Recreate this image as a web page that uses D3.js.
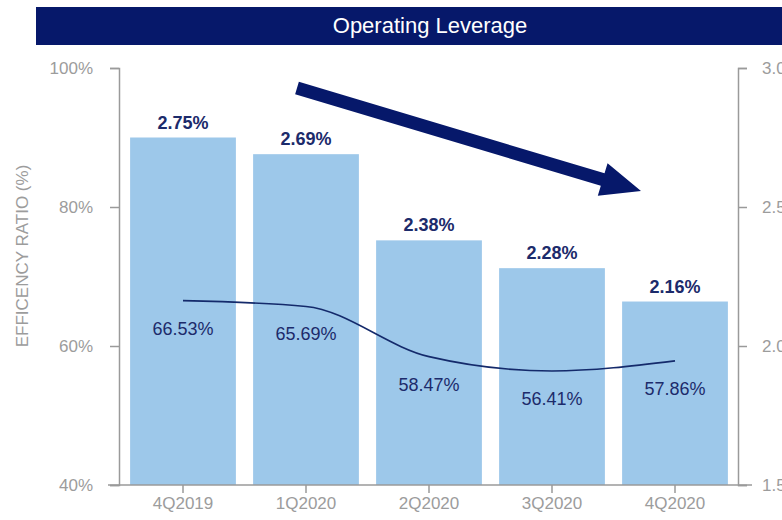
<!doctype html>
<html lang="en">
<head>
  <meta charset="utf-8">
  <title>Operating Leverage</title>
  <style>
    body { margin:0; background:#fff; }
    svg { display:block; font-family:"Liberation Sans", Arial, sans-serif; }
    .axis text { fill:#9c9c9c; font-size:17px; }
    .axis path, .axis line { stroke:#9a9a9a; stroke-width:1.5; }
  </style>
</head>
<body>
<div id="chart"></div>
<script src="https://cdn.jsdelivr.net/npm/d3@7"></script>
<script>
var quarters = ["4Q2019", "1Q2020", "2Q2020", "3Q2020", "4Q2020"];
var leverage = [2.75, 2.69, 2.38, 2.28, 2.16];        // bars, right axis
var efficiency = [66.53, 65.69, 58.47, 56.41, 57.86]; // line, left axis
var leftTicks = [40, 60, 80, 100];
var rightTicks = [1.5, 2.0, 2.5, 3.0];

var W = 782, H = 520;
var navy = "#06186a";

var svg = d3.select("#chart").append("svg")
    .attr("width", W).attr("height", H);

// header band
svg.append("rect")
    .attr("x", 36).attr("y", 7).attr("width", W - 36).attr("height", 38)
    .attr("fill", navy);
svg.append("text")
    .attr("x", 430).attr("y", 33)
    .attr("text-anchor", "middle")
    .attr("fill", "#fff").attr("font-size", 22)
    .text("Operating Leverage");

var x = d3.scaleBand().domain(quarters)
    .range([121.5, 736.5]).paddingInner(0.14).paddingOuter(0.07);
var yL = d3.scaleLinear().domain([40, 100]).range([485, 68]);
var yR = d3.scaleLinear().domain([1.5, 3.0]).range([485, 68]);

// bars
svg.append("g").selectAll("rect")
  .data(quarters)
  .join("rect")
    .attr("x", d => x(d))
    .attr("y", (d, i) => yR(leverage[i]))
    .attr("width", x.bandwidth())
    .attr("height", (d, i) => yR(1.5) - yR(leverage[i]))
    .attr("fill", "#9dc8ea");

svg.append("g").selectAll("text")
  .data(quarters)
  .join("text")
    .attr("x", d => x(d) + x.bandwidth() / 2)
    .attr("y", (d, i) => yR(leverage[i]) - 9)
    .attr("text-anchor", "middle")
    .attr("font-size", 18).attr("font-weight", "bold")
    .attr("fill", "#1c2b6b")
    .text((d, i) => leverage[i].toFixed(2) + "%");

// axes
svg.append("g").attr("class", "axis")
    .attr("transform", "translate(119,0)")
    .call(d3.axisLeft(yL).tickValues(leftTicks).tickFormat(d => d + "%").tickSizeOuter(0).tickSize(9).tickPadding(17));

// right labels run off the page edge, as in the original slide
svg.append("g").attr("class", "axis")
    .attr("transform", "translate(738,0)")
    .call(d3.axisRight(yR).tickValues(rightTicks).tickFormat(d => d.toFixed(1) + "%").tickSizeOuter(0).tickSize(9).tickPadding(15));

var gb = svg.append("g").attr("class", "axis")
    .attr("transform", "translate(0,485)")
    .call(d3.axisBottom(x).tickSizeOuter(0).tickSize(8).tickPadding(4));
gb.select(".domain").attr("d", "M108,0H752");

svg.append("text")
    .attr("transform", "translate(28,256) rotate(-90)")
    .attr("text-anchor", "middle")
    .attr("fill", "#9c9c9c").attr("font-size", 17)
    .text("EFFICENCY RATIO (%)");

// efficiency line
var line = d3.line()
    .x((d, i) => x(quarters[i]) + x.bandwidth() / 2)
    .y(d => yL(d))
    .curve(d3.curveMonotoneX);

svg.append("path")
    .datum(efficiency)
    .attr("d", line)
    .attr("fill", "none")
    .attr("stroke", "#142a6b")
    .attr("stroke-width", 1.6);

svg.append("g").selectAll("text")
  .data(efficiency)
  .join("text")
    .attr("x", (d, i) => x(quarters[i]) + x.bandwidth() / 2)
    .attr("y", d => yL(d) + 34)
    .attr("text-anchor", "middle")
    .attr("font-size", 18)
    .attr("fill", "#1c2b6b")
    .text(d => d.toFixed(2) + "%");

// trend arrow annotation
var ax0 = 297, ay0 = 88, ax1 = 641, ay1 = 191;
var len = Math.hypot(ax1 - ax0, ay1 - ay0);
var ang = Math.atan2(ay1 - ay0, ax1 - ax0) * 180 / Math.PI;
var hl = 40, hw = 17, sw = 6.5;
svg.append("path")
    .attr("transform", "translate(" + ax0 + "," + ay0 + ") rotate(" + ang + ")")
    .attr("d", "M0," + (-sw) + "L" + (len - hl) + "," + (-sw) + "L" + (len - hl) + "," + (-hw) +
               "L" + len + ",0L" + (len - hl) + "," + hw + "L" + (len - hl) + "," + sw + "L0," + sw + "Z")
    .attr("fill", navy);
</script>
</body>
</html>
